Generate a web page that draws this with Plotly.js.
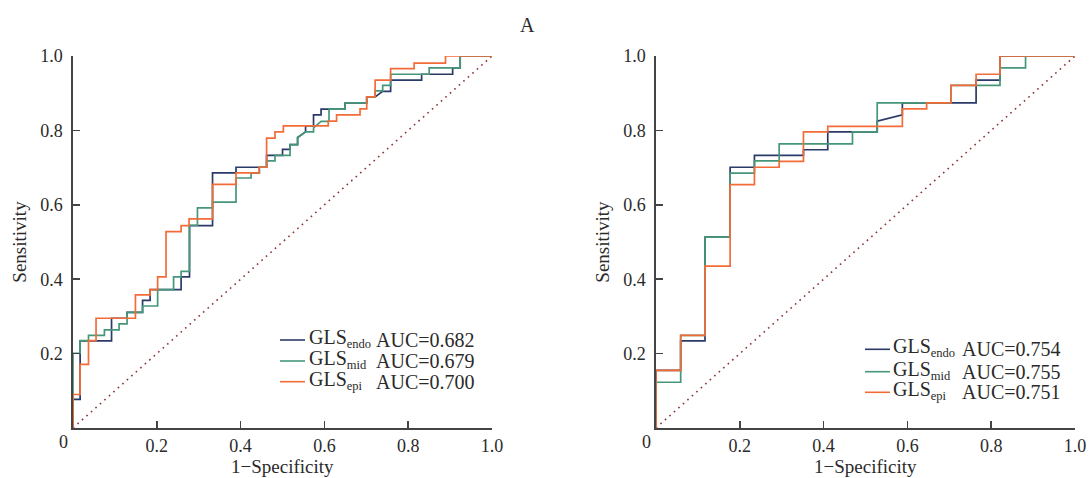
<!DOCTYPE html>
<html>
<head>
<meta charset="utf-8">
<script src="https://cdn.plot.ly/plotly-3.0.1.min.js"></script>
<style>html,body{margin:0;padding:0;background:#fff;}#chart{width:1089px;height:478px;}</style>
</head>
<body>
<div id="chart"></div>
<script>
// ---------- Panel 1 (left) ----------
const endoL_fpr = [0,0,0.017,0.017,0.092,0.092,0.129,0.129,0.166,0.166,0.184,0.184,0.258,0.258,0.278,0.278,0.333,0.333,0.389,0.389,0.462,0.462,0.500,0.500,0.518,0.518,0.536,0.536,0.555,0.555,0.574,0.574,0.592,0.592,0.649,0.649,0.701,0.701,0.721,0.739,0.758,0.758,0.832,0.832,0.906,0.906,0.924,0.924,1];
const endoL_tpr = [0,0.077,0.077,0.234,0.234,0.295,0.295,0.311,0.311,0.343,0.343,0.372,0.372,0.406,0.406,0.544,0.544,0.686,0.686,0.701,0.701,0.733,0.733,0.749,0.749,0.762,0.762,0.781,0.796,0.812,0.812,0.842,0.842,0.857,0.857,0.874,0.874,0.890,0.890,0.905,0.905,0.935,0.935,0.951,0.951,0.968,0.968,1,1];

const midL_fpr = [0,0,0.017,0.017,0.037,0.037,0.075,0.075,0.110,0.110,0.129,0.129,0.166,0.166,0.202,0.202,0.240,0.240,0.258,0.258,0.278,0.278,0.297,0.297,0.333,0.333,0.389,0.389,0.425,0.425,0.445,0.445,0.462,0.462,0.482,0.482,0.518,0.518,0.536,0.536,0.555,0.574,0.574,0.592,0.592,0.611,0.611,0.649,0.649,0.701,0.701,0.721,0.721,0.739,0.739,0.758,0.758,0.850,0.850,0.924,0.924,1];
const midL_tpr = [0,0.201,0.201,0.235,0.235,0.249,0.249,0.264,0.264,0.280,0.280,0.311,0.311,0.328,0.328,0.372,0.372,0.406,0.406,0.421,0.421,0.545,0.545,0.592,0.592,0.607,0.607,0.672,0.672,0.685,0.685,0.701,0.701,0.718,0.718,0.733,0.733,0.762,0.762,0.781,0.796,0.796,0.807,0.824,0.824,0.824,0.857,0.857,0.874,0.874,0.890,0.890,0.906,0.906,0.921,0.921,0.951,0.951,0.968,0.968,1,1];

const epiL_fpr = [0,0,0.017,0.017,0.037,0.037,0.055,0.055,0.149,0.149,0.184,0.184,0.202,0.202,0.222,0.222,0.258,0.258,0.277,0.277,0.333,0.333,0.389,0.389,0.444,0.444,0.462,0.462,0.482,0.482,0.502,0.502,0.609,0.609,0.629,0.629,0.685,0.685,0.701,0.701,0.721,0.721,0.758,0.758,0.814,0.814,0.889,0.889,1];
const epiL_tpr = [0,0.090,0.090,0.171,0.171,0.235,0.235,0.295,0.295,0.358,0.358,0.372,0.372,0.406,0.406,0.528,0.528,0.544,0.544,0.562,0.562,0.655,0.655,0.686,0.686,0.701,0.701,0.779,0.779,0.796,0.796,0.812,0.812,0.825,0.825,0.842,0.842,0.858,0.858,0.890,0.890,0.935,0.935,0.966,0.966,0.981,0.981,1,1];

// ---------- Panel 2 (right) ----------
const endoR_fpr = [0,0,0.059,0.059,0.117,0.117,0.177,0.177,0.235,0.235,0.352,0.352,0.410,0.410,0.528,0.528,0.588,0.588,0.764,0.764,0.821,0.821,1];
const endoR_tpr = [0,0.155,0.155,0.234,0.234,0.513,0.513,0.701,0.701,0.733,0.733,0.748,0.748,0.796,0.796,0.825,0.842,0.874,0.874,0.935,0.935,1,1];

const midR_fpr = [0,0,0.059,0.059,0.117,0.117,0.177,0.177,0.235,0.235,0.294,0.294,0.469,0.469,0.528,0.528,0.704,0.704,0.821,0.821,0.882,0.882,1];
const midR_tpr = [0,0.123,0.123,0.249,0.249,0.513,0.513,0.685,0.685,0.718,0.718,0.764,0.764,0.796,0.796,0.874,0.874,0.921,0.921,0.968,0.968,1,1];

const epiR_fpr = [0,0,0.059,0.059,0.117,0.117,0.177,0.177,0.235,0.235,0.294,0.294,0.352,0.352,0.410,0.410,0.588,0.588,0.646,0.646,0.704,0.704,0.764,0.764,0.821,0.821,1];
const epiR_tpr = [0,0.155,0.155,0.249,0.249,0.435,0.435,0.654,0.654,0.701,0.701,0.717,0.717,0.796,0.796,0.811,0.811,0.858,0.858,0.874,0.874,0.921,0.921,0.951,0.951,1,1];

const diagX = [0, 1];
const diagY = [0, 1];

// legend texts
const layerNames = ['endo', 'mid', 'epi'];
const aucLeft = ['0.682', '0.679', '0.700'];
const aucRight = ['0.754', '0.755', '0.751'];
const tickVals = [0, 0.2, 0.4, 0.6, 0.8, 1.0];
const xTickText = ['', '0.2', '0.4', '0.6', '0.8', '1.0'];
const yTickVals = [0.2, 0.4, 0.6, 0.8, 1.0];
const yTickText = ['0.2', '0.4', '0.6', '0.8', '1.0'];
const xTitle = '1\u2212Specificity';
const yTitle = 'Sensitivity';

const COLORS = ['#2b3a68', '#46977a', '#f36c38'];
const C_DIAG = '#8a3535';
const FONT = 'Liberation Serif, Times New Roman, serif';
const TXT = '#2a2a2a';

function line(x, y, color, name, xa, ya) {
  return {x: x, y: y, type: 'scatter', mode: 'lines', name: name, xaxis: xa, yaxis: ya,
    showlegend: false, line: {color: color, width: 1.7}, hoverinfo: 'skip'};
}
const traces = [
  {x: diagX, y: diagY, type: 'scatter', mode: 'lines', xaxis: 'x', yaxis: 'y', showlegend: false,
   line: {color: C_DIAG, width: 1.6, dash: '1.6px,4.4px'}},
  {x: diagX, y: diagY, type: 'scatter', mode: 'lines', xaxis: 'x2', yaxis: 'y2', showlegend: false,
   line: {color: C_DIAG, width: 1.6, dash: '1.6px,4.4px'}},
  line(endoL_fpr, endoL_tpr, COLORS[0], 'GLS endo', 'x', 'y'),
  line(midL_fpr, midL_tpr, COLORS[1], 'GLS mid', 'x', 'y'),
  line(epiL_fpr, epiL_tpr, COLORS[2], 'GLS epi', 'x', 'y'),
  line(endoR_fpr, endoR_tpr, COLORS[0], 'GLS endo', 'x2', 'y2'),
  line(midR_fpr, midR_tpr, COLORS[1], 'GLS mid', 'x2', 'y2'),
  line(epiR_fpr, epiR_tpr, COLORS[2], 'GLS epi', 'x2', 'y2')
];

function xaxis(domain, anchor) {
  return {domain: domain, anchor: anchor, range: [0, 1], tickvals: tickVals, ticktext: xTickText,
    ticks: 'inside', ticklen: 7, tickwidth: 1.5, tickcolor: '#444', showline: true, linecolor: '#444',
    linewidth: 1.6, showgrid: false, zeroline: false, ticklabelstandoff: 1,
    tickfont: {family: FONT, size: 18, color: TXT}};
}
function yaxis(anchor) {
  return {domain: [0, 1], anchor: anchor, range: [0, 1], tickvals: yTickVals, ticktext: yTickText,
    ticks: 'inside', ticklen: 7, tickwidth: 1.5, tickcolor: '#444', showline: true, linecolor: '#444',
    linewidth: 1.6, showgrid: false, zeroline: false, ticklabelstandoff: 5,
    tickfont: {family: FONT, size: 18, color: TXT},
    title: {text: yTitle, font: {family: FONT, size: 19, color: TXT}, standoff: 8}};
}

// pixel -> paper helpers for decorations
const M = {l: 73, r: 14, t: 56, b: 50}, W = 1089, H = 478;
const px2x = p => (p - M.l) / (W - M.l - M.r);
const py2y = p => (H - M.b - p) / (H - M.t - M.b);

const annotations = [
  {text: 'A', xref: 'paper', yref: 'paper', x: px2x(527), y: py2y(25), xanchor: 'center', yanchor: 'middle',
   showarrow: false, font: {family: FONT, size: 20, color: TXT}},
  {text: '0', xref: 'paper', yref: 'paper', x: px2x(63), y: py2y(442), xanchor: 'center', yanchor: 'middle',
   showarrow: false, font: {family: FONT, size: 18, color: TXT}},
  {text: '0', xref: 'paper', yref: 'paper', x: px2x(646), y: py2y(442), xanchor: 'center', yanchor: 'middle',
   showarrow: false, font: {family: FONT, size: 18, color: TXT}},
  {text: xTitle, xref: 'x domain', yref: 'paper', x: 0.5, y: py2y(466.5), xanchor: 'center', yanchor: 'middle',
   showarrow: false, font: {family: FONT, size: 19, color: TXT}},
  {text: xTitle, xref: 'x2 domain', yref: 'paper', x: 0.5, y: py2y(466.5), xanchor: 'center', yanchor: 'middle',
   showarrow: false, font: {family: FONT, size: 19, color: TXT}}
];
const shapes = [];
function addLegend(x0, x1, xName, xAuc, rowsY, aucs) {
  for (let i = 0; i < 3; i++) {
    shapes.push({type: 'line', xref: 'paper', yref: 'paper', x0: px2x(x0), x1: px2x(x1),
      y0: py2y(rowsY[i]), y1: py2y(rowsY[i]), line: {color: COLORS[i], width: 1.6}});
    annotations.push({text: 'GLS<sub><span style="font-size:12.5px">' + layerNames[i] + '</span></sub>',
      xref: 'paper', yref: 'paper',
      x: px2x(xName), y: py2y(rowsY[i] + 7), xanchor: 'left', yanchor: 'bottom', showarrow: false,
      font: {family: FONT, size: 20, color: TXT}, xshift: -2, yshift: -6});
    annotations.push({text: 'AUC=' + aucs[i], xref: 'paper', yref: 'paper',
      x: px2x(xAuc), y: py2y(rowsY[i]), xanchor: 'left', yanchor: 'middle', showarrow: false,
      font: {family: FONT, size: 20, color: TXT}, xshift: -2});
  }
}
addLegend(280, 305, 309, 376, [340, 361, 381.7], aucLeft);
addLegend(865, 890, 893.3, 961.7, [349.3, 371.7, 392.3], aucRight);

const layout = {
  width: W, height: H, margin: M,
  paper_bgcolor: '#fff', plot_bgcolor: '#fff', showlegend: false,
  xaxis: xaxis([0, 0.4182], 'y'), yaxis: yaxis('x'),
  xaxis2: xaxis([0.5818, 1], 'y2'), yaxis2: yaxis('x2'),
  shapes: shapes, annotations: annotations
};

Plotly.newPlot('chart', traces, layout, {staticPlot: true, displayModeBar: false});
</script>
</body>
</html>
